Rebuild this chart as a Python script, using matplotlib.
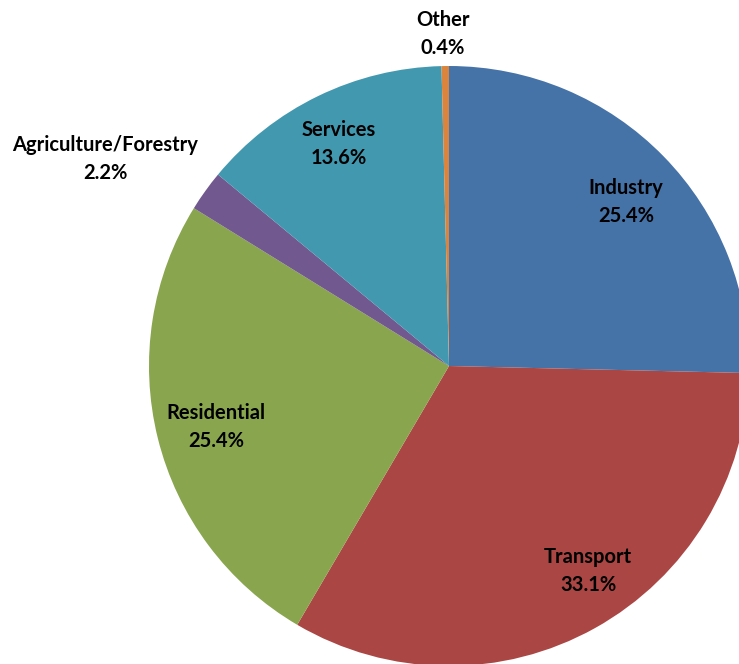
import matplotlib
matplotlib.use("Agg")
import matplotlib.pyplot as plt

categories = ["Industry", "Transport", "Residential", "Agriculture/Forestry", "Services", "Other"]
values = [25.4, 33.1, 25.4, 2.2, 13.6, 0.4]
colors = ["#4572A7", "#AA4643", "#89A54E", "#71588F", "#4198AF", "#DB843D"]
# label text-block centres in pixel coordinates (x from left, y from top)
label_pos = [(626, 202), (588, 571), (216, 427), (105, 159), (339, 144), (443, 34)]

W, H = 739, 664
fig = plt.figure(figsize=(W / 100, H / 100), dpi=100)
ax = fig.add_axes([0, 0, 1, 1])

cx, cy, r = 449, H - 366, 300
ax.pie(values, colors=colors, startangle=90, counterclock=False,
       center=(cx, cy), radius=r, frame=True,
       wedgeprops=dict(linewidth=0))
ax.set_xlim(0, W)
ax.set_ylim(0, H)
ax.set_aspect("equal")
ax.axis("off")

for cat, v, (px, py) in zip(categories, values, label_pos):
    ax.text(px, H - py, f"{cat}\n{v:.1f}%", ha="center", va="center",
            fontsize=14.5, fontweight="bold", family=["Lato", "DejaVu Sans"],
            color="black", linespacing=1.55)

fig.savefig("out.png", dpi=100)
